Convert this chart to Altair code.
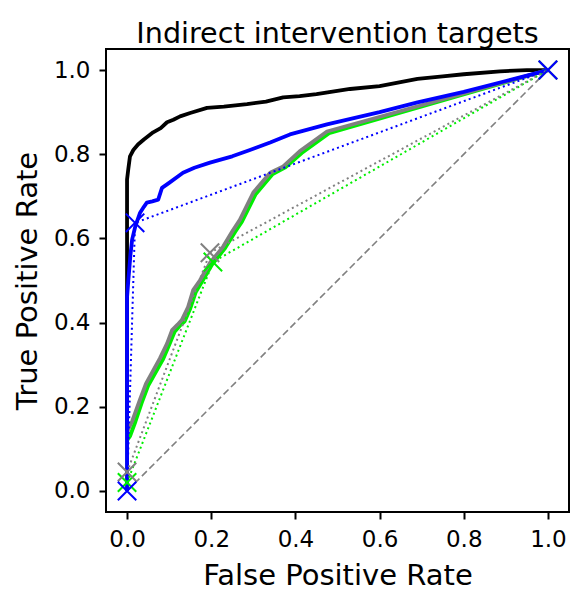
import altair as alt
import pandas as pd

# ---- data ----
black_fpr = [0, 0, 0.0, 0.003, 0.007, 0.015, 0.026, 0.04, 0.062, 0.08, 0.095, 0.11, 0.126, 0.15,
             0.19, 0.23, 0.285, 0.33, 0.371, 0.41, 0.45, 0.53, 0.6, 0.69, 0.75, 0.8, 0.886, 0.95, 1.0]
black_tpr = [0, 0.45, 0.74, 0.765, 0.795, 0.81, 0.823, 0.835, 0.852, 0.862, 0.876, 0.882, 0.89, 0.898,
             0.91, 0.913, 0.919, 0.925, 0.935, 0.938, 0.943, 0.955, 0.962, 0.979, 0.985, 0.99, 0.997, 1.0, 1.0]

blue_fpr = [0, 0, 0.003, 0.008, 0.012, 0.02, 0.031, 0.04, 0.047, 0.06, 0.074, 0.083, 0.1, 0.133,
            0.16, 0.197, 0.25, 0.292, 0.34, 0.387, 0.475, 0.6, 0.69, 0.8, 0.9, 1.0]
blue_tpr = [0, 0.46, 0.5, 0.56, 0.597, 0.63, 0.661, 0.675, 0.685, 0.688, 0.692, 0.72, 0.732, 0.756,
            0.768, 0.78, 0.795, 0.81, 0.828, 0.847, 0.871, 0.9, 0.923, 0.948, 0.974, 1.0]

gray_fpr = [0, 0, 0.012, 0.03, 0.045, 0.062, 0.078, 0.095, 0.107, 0.12, 0.13, 0.145, 0.157, 0.173,
            0.197, 0.228, 0.252, 0.268, 0.3, 0.34, 0.371, 0.41, 0.475, 1.0]
gray_tpr = [0, 0.14, 0.165, 0.215, 0.255, 0.286, 0.315, 0.35, 0.382, 0.395, 0.406, 0.437, 0.477, 0.5,
            0.542, 0.58, 0.62, 0.644, 0.709, 0.756, 0.771, 0.807, 0.854, 1.0]

green_fpr = [0, 0, 0.007, 0.02, 0.035, 0.05, 0.068, 0.085, 0.1, 0.113, 0.125, 0.137, 0.15, 0.163,
             0.178, 0.202, 0.233, 0.257, 0.273, 0.305, 0.345, 0.375, 0.415, 0.48, 1.0]
green_tpr = [0, 0.12, 0.13, 0.165, 0.21, 0.25, 0.282, 0.312, 0.347, 0.378, 0.392, 0.403, 0.433, 0.472,
             0.497, 0.538, 0.577, 0.616, 0.64, 0.704, 0.752, 0.768, 0.803, 0.85, 1.0]

# single-threshold operating points (dotted lines + x markers)
blue_pt_fpr = [0, 0.019, 1.0]
blue_pt_tpr = [0, 0.637, 1.0]
gray_pt_fpr = [0, 0.197, 1.0]
gray_pt_tpr = [0.045, 0.566, 1.0]
green_pt_fpr = [0, 0.204, 1.0]
green_pt_tpr = [0.02, 0.544, 1.0]

diag = [0, 1]

series_order = ["black", "green", "gray", "blue"]
series_colors = ["#000000", "#00ee00", "#808080", "#0000ff"]


def frame(name, xs, ys):
    return pd.DataFrame({"fpr": xs, "tpr": ys, "series": name, "i": range(len(xs))})


solid = pd.concat([
    frame("black", black_fpr, black_tpr),
    frame("green", green_fpr, green_tpr),
    frame("gray", gray_fpr, gray_tpr),
    frame("blue", blue_fpr, blue_tpr),
])
points = pd.concat([
    frame("green", green_pt_fpr, green_pt_tpr),
    frame("gray", gray_pt_fpr, gray_pt_tpr),
    frame("blue", blue_pt_fpr, blue_pt_tpr),
])
diag_df = pd.DataFrame({"fpr": diag, "tpr": diag})

ticks = [0, 0.2, 0.4, 0.6, 0.8, 1.0]
FONT = "DejaVu Sans"

x_enc = alt.X("fpr:Q", scale=alt.Scale(domain=[-0.05, 1.05], nice=False, zero=False),
              axis=alt.Axis(values=ticks, format=".1f", title="False Positive Rate",
                            titleY=72, titleBaseline="alphabetic", labelPadding=9))
y_enc = alt.Y("tpr:Q", scale=alt.Scale(domain=[-0.05, 1.05], nice=False, zero=False),
              axis=alt.Axis(values=ticks, format=".1f", title="True Positive Rate",
                            titleX=-70, titleBaseline="alphabetic", labelPadding=9))
color_enc = alt.Color("series:N", scale=alt.Scale(domain=series_order, range=series_colors),
                      legend=None)

diag_layer = alt.Chart(diag_df).mark_line(color="#808080", strokeWidth=1.6,
                                          strokeDash=[7, 3.5]).encode(x=x_enc, y=y_enc)

solid_layer = alt.Chart(solid).mark_line(strokeWidth=3.8, strokeJoin="round").encode(
    x=x_enc, y=y_enc, color=color_enc, detail="series:N", order="i:Q")

dotted_layer = alt.Chart(points).mark_line(strokeWidth=2, strokeDash=[2, 3.2]).encode(
    x=x_enc, y=y_enc, color=color_enc, detail="series:N", order="i:Q")

XPATH = "M-1,-1L1,1M-1,1L1,-1"
marker_layer = alt.Chart(points).mark_point(shape=XPATH, filled=False, size=340,
                                            strokeWidth=2, opacity=1).encode(
    x=x_enc, y=y_enc, color=color_enc)

chart = alt.layer(diag_layer, solid_layer, dotted_layer, marker_layer).properties(
    width=463, height=463,
    title=alt.TitleParams("Indirect intervention targets", font=FONT, fontSize=28.6,
                          fontWeight="normal", color="black", baseline="alphabetic",
                          offset=7, dy=30, frame="group", anchor="middle"),
    autosize=alt.AutoSizeParams(type="none"),
    padding={"left": 98, "top": 41, "right": 8, "bottom": 85},
    background="white",
).configure_view(stroke="black", strokeWidth=2).configure_axis(
    domain=False, grid=False, ticks=True, tickSize=7, tickWidth=2, tickColor="black",
    labelFont=FONT, labelFontSize=23, labelColor="black",
    titleFont=FONT, titleFontSize=29, titleFontWeight="normal", titleColor="black",
)

chart.save("out.html", embed_options={"renderer": "svg", "actions": False})
